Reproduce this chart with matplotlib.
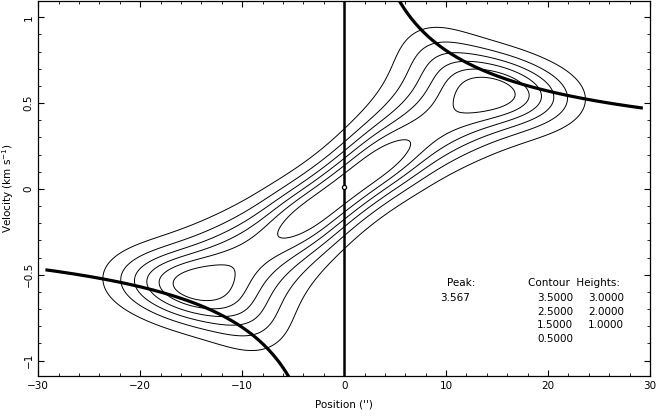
import numpy as np
import matplotlib
matplotlib.use("Agg")
import matplotlib.pyplot as plt
from matplotlib.ticker import MultipleLocator

# ring model of the position-velocity cut
ring_radius = [5, 8, 10, 12, 14, 16, 18, 20, 22, 24]
ring_velocity = [0.22, 0.90, 0.81, 0.73, 0.67, 0.63, 0.595, 0.565, 0.54, 0.515]
ring_weight = [0.22, 0.3, 0.5, 0.7, 0.9, 1.0, 0.9, 0.65, 0.4, 0.15]
beam_pos = 2.4      # arcsec
beam_vel = 0.125    # km/s
peak_value = 3.48

contour_levels = [0.5, 1.0, 1.5, 2.0, 2.5, 3.0, 3.5]
kepler_k = 2.55     # v = k / sqrt(r), thick curves

peak_text = "3.567"
height_rows = [("3.5000", "3.0000"), ("2.5000", "2.0000"),
               ("1.5000", "1.0000"), ("0.5000", "")]

# build the PV map
xg = np.linspace(-30, 30, 301)
vg = np.linspace(-1.1, 1.1, 261)
phi = np.linspace(0, 2 * np.pi, 360, endpoint=False)
pv = np.zeros((len(vg), len(xg)))
for r, vr, w in zip(ring_radius, ring_velocity, ring_weight):
    gx = np.exp(-(xg[None, :] - r * np.cos(phi)[:, None]) ** 2 / (2 * beam_pos ** 2))
    gv = np.exp(-(vg[None, :] - vr * np.cos(phi)[:, None]) ** 2 / (2 * beam_vel ** 2))
    pv += w * (gv.T @ gx)
pv *= peak_value / pv.max()

fig = plt.figure(figsize=(6.57, 4.17), dpi=100)
ax = fig.add_axes([0.0583, 0.0983, 0.931, 0.8993])

ax.contour(xg, vg, pv, levels=contour_levels, colors="black", linewidths=0.7)

xr = np.linspace(4.5, 29.3, 300)
ax.plot(xr, kepler_k / np.sqrt(xr), color="black", lw=2.3, solid_capstyle="butt")
ax.plot(-xr, -kepler_k / np.sqrt(xr), color="black", lw=2.3, solid_capstyle="butt")
ax.axvline(0, color="black", lw=1.8)
ax.plot([0], [0.013], marker="o", ms=3, mfc="white", mec="black", mew=0.9)

ax.set_xlim(-30, 30)
ax.set_ylim(-1.09, 1.095)
ax.xaxis.set_major_locator(MultipleLocator(10))
ax.xaxis.set_minor_locator(MultipleLocator(2))
ax.yaxis.set_major_locator(MultipleLocator(0.5))
ax.yaxis.set_minor_locator(MultipleLocator(0.1))
ax.tick_params(which="both", direction="in", top=True, right=True, labelsize=7.5)
ax.tick_params(which="major", length=4)
ax.tick_params(which="minor", length=2.2)
ax.set_yticks([-1, -0.5, 0, 0.5, 1])
ax.set_yticklabels(["\u22121", "\u22120.5", "0", "0.5", "1"], rotation=90, va="center")
ax.set_xticks([-30, -20, -10, 0, 10, 20, 30])
ax.set_xticklabels(["\u221230", "\u221220", "\u221210", "0", "10", "20", "30"])
ax.set_xlabel("Position ('')", fontsize=7.5, labelpad=6)
ax.set_ylabel("Velocity (km s$^{-1}$)", fontsize=7.5, labelpad=5)
for sp in ax.spines.values():
    sp.set_linewidth(0.9)

ax.text(10.1, -0.547, "Peak:", fontsize=7.5, va="center")
ax.text(9.4, -0.637, peak_text, fontsize=7.5, va="center")
ax.text(18.0, -0.547, "Contour  Heights:", fontsize=7.5, va="center")
row_y = [-0.637, -0.715, -0.792, -0.874]
for (a, b), y in zip(height_rows, row_y):
    ax.text(22.45, y, a, fontsize=7.5, va="center", ha="right")
    if b:
        ax.text(27.45, y, b, fontsize=7.5, va="center", ha="right")

fig.savefig("out.png", dpi=100)
